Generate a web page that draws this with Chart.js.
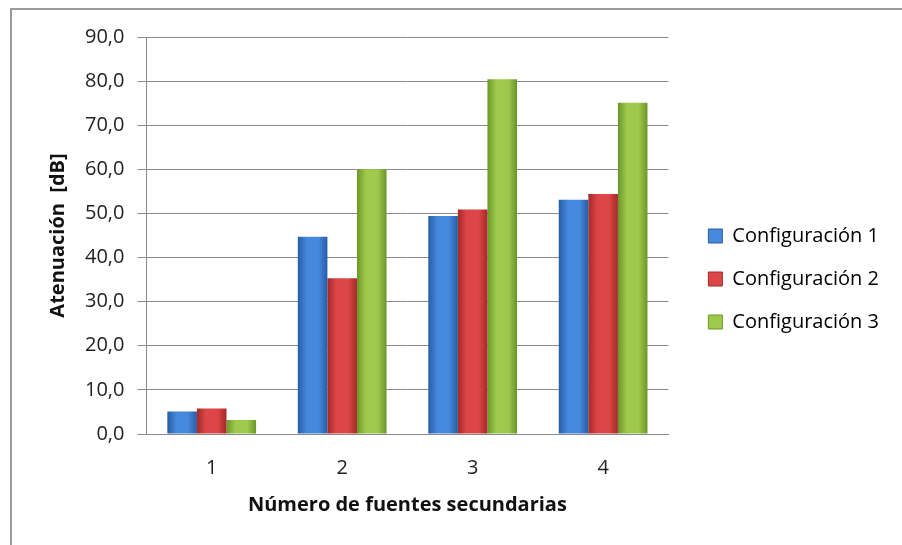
<!DOCTYPE html>
<html>
<head>
<meta charset="utf-8">
<script src="https://cdn.jsdelivr.net/npm/chart.js@4/dist/chart.umd.min.js"></script>
<style>
  html, body { margin: 0; padding: 0; background: #fff; }
  #wrap { position: relative; width: 902px; height: 545px; overflow: hidden; }
  #frame {
    position: absolute; left: 10px; top: 8px; width: 1000px; height: 700px;
    border-left: 2px solid #9a9a9a; border-top: 2px solid #9a9a9a;
  }
  #c { position: absolute; left: 0; top: 0; }
</style>
</head>
<body>
<div id="wrap">
  <div id="frame"></div>
  <canvas id="c" width="902" height="545"></canvas>
</div>
<script>
// Atenuación por número de fuentes secundarias
const categories = ["1", "2", "3", "4"];
const config1 = [5.1, 44.7, 49.4, 53.1];
const config2 = [5.8, 35.3, 50.9, 54.4];
const config3 = [3.2, 60.0, 80.4, 75.1];
const seriesNames = ["Configuración 1", "Configuración 2", "Configuración 3"];
const yTicks = [0, 10, 20, 30, 40, 50, 60, 70, 80, 90];

const FONT = "'Open Sans', sans-serif";
const CAT_PCT = 0.68;

// [borde oscuro, centro claro]
const SHADES = [
  ["#275ca5", "#4688dc"],
  ["#a52828", "#dc4646"],
  ["#6b962a", "#9dc94c"],
];

// gradiente horizontal por barra (efecto biselado de Excel)
function barFill(ctx) {
  const chart = ctx.chart;
  const x = chart.scales && chart.scales.x;
  const ds = ctx.datasetIndex;
  const [dark, light] = SHADES[ds];
  if (!x || ctx.type !== "data") return light;
  const catW = x.width / categories.length;
  const w = catW * CAT_PCT / 3;
  const cx = x.getPixelForValue(ctx.dataIndex) + (ds - 1) * w;
  const g = chart.ctx.createLinearGradient(cx - w / 2, 0, cx + w / 2, 0);
  g.addColorStop(0, dark);
  g.addColorStop(0.3, light);
  g.addColorStop(0.7, light);
  g.addColorStop(1, dark);
  return g;
}

const datasets = [config1, config2, config3].map((d, i) => ({
  label: seriesNames[i],
  data: d,
  backgroundColor: barFill,
  borderWidth: 0,
  categoryPercentage: CAT_PCT,
  barPercentage: 1,
}));

new Chart(document.getElementById("c"), {
  type: "bar",
  data: { labels: categories, datasets },
  options: {
    responsive: false,
    animation: false,
    layout: { padding: { left: 46, right: 13, top: 37, bottom: 24 } },
    plugins: {
      tooltip: { enabled: false },
      legend: {
        position: "right",
        maxWidth: 240,
        labels: {
          font: { family: FONT, size: 20 },
          color: "#222",
          boxWidth: 14,
          boxHeight: 14,
          padding: 23,
          generateLabels: () => seriesNames.map((n, i) => ({
            text: n,
            fillStyle: SHADES[i][1],
            strokeStyle: SHADES[i][0],
            lineWidth: 1,
            datasetIndex: i,
          })),
        },
      },
    },
    scales: {
      x: {
        grid: { display: false, drawTicks: false },
        border: { display: true, color: "#8a8a8a", width: 1 },
        ticks: { color: "#222", font: { family: FONT, size: 20 }, padding: 22 },
        title: {
          display: true,
          text: "Número de fuentes secundarias",
          color: "#111",
          font: { family: FONT, size: 20, weight: "bold" },
          padding: { top: -9, bottom: 4 },
        },
      },
      y: {
        min: 0,
        max: 90,
        afterBuildTicks: (axis) => { axis.ticks = yTicks.map((v) => ({ value: v })); },
        grid: { color: "#8a8a8a", lineWidth: 1, tickLength: 9 },
        border: { display: true, color: "#8a8a8a", width: 1 },
        ticks: {
          color: "#222",
          font: { family: FONT, size: 20 },
          padding: 13,
          callback: (v) => Number(v).toFixed(1).replace(".", ","),
        },
        title: {
          display: true,
          text: "Atenuación  [dB]",
          color: "#111",
          font: { family: FONT, size: 20, weight: "bold" },
          padding: { top: 0, bottom: 2 },
        },
      },
      // hueco entre el área de trazado y la leyenda
      gap: {
        position: "right",
        display: true,
        grid: { display: false },
        border: { display: false },
        ticks: { display: false },
        afterFit: (s) => { s.width = 17; },
      },
    },
  },
});
</script>
</body>
</html>
